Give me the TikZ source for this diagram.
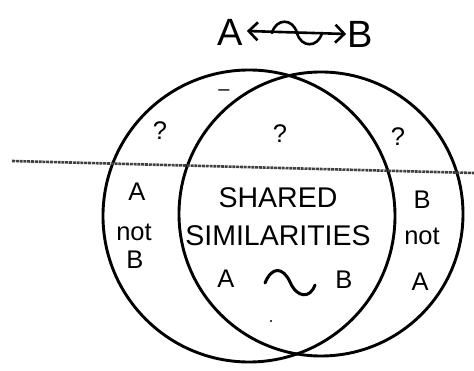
\documentclass[tikz,border=0pt]{standalone}
\usepackage{fontspec}
\setmainfont{Liberation Sans}
\usetikzlibrary{arrows.meta}
\begin{document}
\begin{tikzpicture}[x=1pt,y=-1pt,
  lbl/.style={inner sep=0pt, font=\fontsize{25.5}{25.5}\selectfont},
  big/.style={inner sep=0pt, font=\fontsize{28.5}{28.5}\selectfont},
  ttl/.style={inner sep=0pt, font=\fontsize{38}{38}\selectfont},
  ring/.style={line width=2.9pt},
  wave/.style={line width=2.6pt, line cap=round},
  divider/.style={line width=2.6pt, color=black!75, dash pattern=on 3pt off 0.8pt}]
\useasboundingbox (0,0) rectangle (474,371);
% circles
\draw[ring] (249,216) circle[radius=146];
\draw[ring] (321,214) circle[radius=142];
% divider line
\coordinate (dl) at (12,161);
\coordinate (dr) at (474,173);
\draw[divider] (dl) -- (dr);
% title
\node[ttl] (tA) at (230,32) {A};
\node[ttl] (tB) at (360,34) {B};
\draw[line width=2.6pt, {Straight Barb[length=9pt,width=18pt]}-{Straight Barb[length=9pt,width=18pt]}]
  ([xshift=4pt,yshift=1pt]tA.east) -- ([xshift=-1pt]tB.west);
\draw[wave] (272,33) .. controls (276,18) and (293,18) .. (297,33)
  .. controls (301,48) and (318,48) .. (322,33);
% question marks
\node[lbl] (q1) at (160,131) {?};
\node[lbl] (q2) at (280,134) {?};
\node[lbl] (q3) at (398,137) {?};
\node[inner sep=0pt, font=\fontsize{20}{20}\selectfont] (dash) at (224,93) {–};
% left region
\node[lbl] (la) at (137,192) {A};
\node[lbl] (ln) at (134,232) {not};
\node[lbl] (lb) at (135,260) {B};
% right region
\node[lbl] (rb) at (422,200) {B};
\node[lbl] (rn) at (422,236) {not};
\node[lbl] (ra) at (420,282) {A};
% center
\node[big] (sh) at (278,198) {SHARED};
\node[big] (si) at (278,236) {SIMILARITIES};
\node[lbl] (ca) at (226,279) {A};
\node[lbl] (cb) at (344,280) {B};
\draw[wave, line width=3pt] (265,283) .. controls (272,266) and (283,267) .. (290,282)
  .. controls (297,298) and (310,299) .. (315,285);
\fill (271,321) circle[radius=1.2];
\end{tikzpicture}
\end{document}
